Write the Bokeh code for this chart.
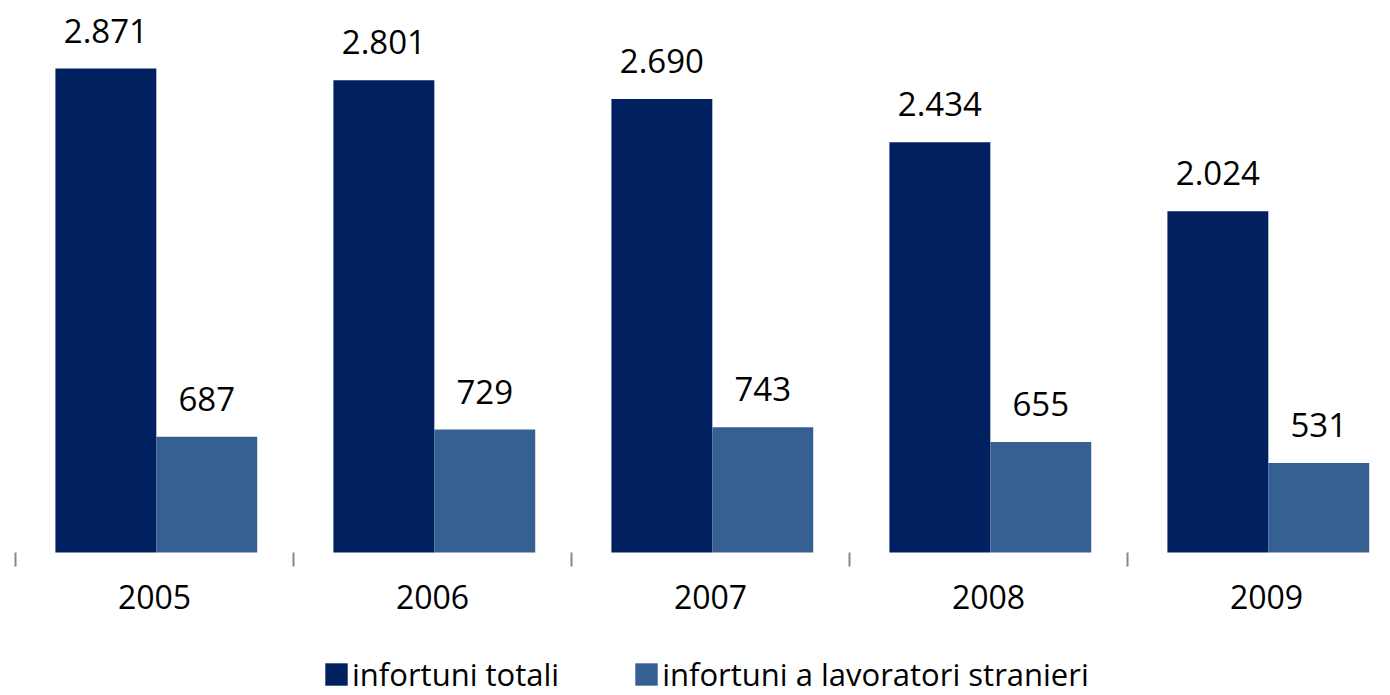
from bokeh.plotting import figure
from bokeh.models import (ColumnDataSource, Range1d, FixedTicker, LabelSet,
                          Legend, LegendItem)
from bokeh.core.properties import value
from bokeh.transform import dodge
from bokeh.embed import file_html
from bokeh.resources import INLINE

years = ["2005", "2006", "2007", "2008", "2009"]
totali = [2871, 2801, 2690, 2434, 2024]
stranieri = [687, 729, 743, 655, 531]
series_names = ["infortuni totali", "infortuni a lavoratori stranieri"]
colors = ["#002060", "#376092"]

def fmt(v):
    return f"{v:,}".replace(",", ".")

xc = [i + 0.5 for i in range(len(years))]
src = ColumnDataSource(dict(
    x=xc, tot=totali, str_=stranieri,
    tot_lbl=[fmt(v) for v in totali],
    str_lbl=[fmt(v) for v in stranieri],
))

FONT = "Open Sans"

p = figure(width=1390, height=695, output_backend="svg", toolbar_location=None,
           x_range=Range1d(-0.054, 4.946), y_range=Range1d(-848.3, 3274.4),
           min_border_left=0, min_border_right=0, min_border_top=0,
           min_border_bottom=0, outline_line_color=None)

r1 = p.vbar(x=dodge("x", -0.175, range=p.x_range), top="tot", bottom=0, width=0.363,
            source=src, fill_color=colors[0], line_color=None)
r2 = p.vbar(x=dodge("x", 0.188, range=p.x_range), top="str_", bottom=0, width=0.363,
            source=src, fill_color=colors[1], line_color=None)

for xo, field, lbl in [(-0.175, "tot", "tot_lbl"), (0.188, "str_", "str_lbl")]:
    ls = LabelSet(x=dodge("x", xo, range=p.x_range), y=field, text=lbl, source=src,
                  text_align="center", text_baseline="alphabetic", y_offset=26,
                  text_font=value(FONT), text_font_size=value("33px"),
                  text_color="#000000")
    p.add_layout(ls)

p.yaxis.visible = False
p.grid.visible = False

ax = p.xaxis[0]
ax.fixed_location = 0
ax.ticker = FixedTicker(ticks=xc, minor_ticks=list(range(len(years) + 1)))
ax.major_label_overrides = {x: y for x, y in zip(xc, years)}
ax.axis_line_color = None
ax.major_tick_line_color = None
ax.major_tick_out = 0
ax.major_tick_in = 0
ax.minor_tick_line_color = "#888888"
ax.minor_tick_line_width = 2
ax.minor_tick_out = 14
ax.minor_tick_in = 0
ax.major_label_standoff = 19
ax.major_label_text_font = FONT
ax.major_label_text_font_size = "32px"
ax.major_label_text_color = "#000000"

legend = Legend(items=[LegendItem(label=series_names[0], renderers=[r1]),
                       LegendItem(label=series_names[1], renderers=[r2])],
                orientation="horizontal", location=(322, 0),
                glyph_width=28, glyph_height=28, label_standoff=2, spacing=73,
                padding=0, margin=0, border_line_color=None,
                background_fill_alpha=0,
                label_text_font=FONT, label_text_font_size="31px",
                label_text_color="#000000")
p.add_layout(legend, "center")

open("out.html", "w").write(file_html(p, INLINE))
